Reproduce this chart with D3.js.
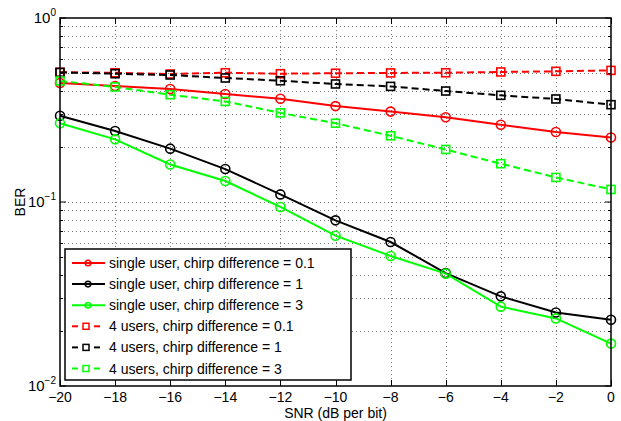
<!DOCTYPE html>
<html><head><meta charset="utf-8">
<script src="https://cdn.jsdelivr.net/npm/d3@7"></script>
<style>body{margin:0;background:#fff;}svg{display:block;font-family:"Liberation Sans",Arial,sans-serif;}</style>
</head><body><svg id="c" width="621" height="421"></svg>
<script>
const snr = [-20,-18,-16,-14,-12,-10,-8,-6,-4,-2,0];
const single01 = [0.443,0.427,0.411,0.386,0.364,0.332,0.310,0.289,0.263,0.240,0.224];
const single1  = [0.294,0.243,0.195,0.151,0.110,0.0795,0.0606,0.0411,0.0307,0.0251,0.0229];
const single3  = [0.268,0.219,0.160,0.130,0.094,0.0656,0.0509,0.0408,0.027,0.0233,0.017];
const users01  = [0.507,0.504,0.496,0.504,0.498,0.501,0.503,0.504,0.509,0.513,0.519];
const users1   = [0.506,0.498,0.49,0.472,0.456,0.438,0.425,0.401,0.380,0.363,0.338];
const users3   = [0.455,0.422,0.383,0.352,0.305,0.268,0.229,0.193,0.1615,0.136,0.117];
const xTicks = [-20,-18,-16,-14,-12,-10,-8,-6,-4,-2,0];
const yMajor = [1e-2,1e-1,1e0];
const yExp = ["-2","-1","0"];
const labels = ["single user, chirp difference = 0.1","single user, chirp difference = 1","single user, chirp difference = 3",
  "4 users, chirp difference = 0.1","4 users, chirp difference = 1","4 users, chirp difference = 3"];

const series = [
  {v:single01,c:"#ff0000",dash:null,m:"circle"},
  {v:single1,c:"#000000",dash:null,m:"circle"},
  {v:single3,c:"#00ff00",dash:null,m:"circle"},
  {v:users01,c:"#ff0000",dash:"7,4",m:"square"},
  {v:users1,c:"#000000",dash:"7,4",m:"square"},
  {v:users3,c:"#00ff00",dash:"7,4",m:"square"}
];

const L=60,R=611,T=18,B=386;
const svg=d3.select("#c");
const x=d3.scaleLinear().domain([-20,0]).range([L,R]);
const y=d3.scaleLog().domain([1e-2,1]).range([B,T]);

const yMinor=[];
for(let e=-2;e<0;e++){for(let k=2;k<=9;k++)yMinor.push(k*Math.pow(10,e));}

const g=svg.append("g");
g.selectAll(".gx").data(xTicks.slice(1,-1)).enter().append("line")
  .attr("x1",d=>Math.round(x(d))+0.5).attr("x2",d=>Math.round(x(d))+0.5).attr("y1",T).attr("y2",B)
  .attr("stroke","#777").attr("stroke-width",1).attr("stroke-dasharray","1,3");
g.selectAll(".gy").data(yMinor.concat([1e-1])).enter().append("line")
  .attr("x1",L).attr("x2",R).attr("y1",d=>Math.round(y(d))+0.5).attr("y2",d=>Math.round(y(d))+0.5)
  .attr("stroke","#777").attr("stroke-width",1).attr("stroke-dasharray","1,3");

const tk=svg.append("g").attr("stroke","#000").attr("stroke-width",1);
xTicks.forEach(d=>{
  const xx=Math.round(x(d))+0.5;
  tk.append("line").attr("x1",xx).attr("x2",xx).attr("y1",B).attr("y2",B-6);
  tk.append("line").attr("x1",xx).attr("x2",xx).attr("y1",T).attr("y2",T+6);
});
yMajor.forEach(d=>{
  tk.append("line").attr("x1",L).attr("x2",L+6).attr("y1",y(d)).attr("y2",y(d));
  tk.append("line").attr("x1",R).attr("x2",R-6).attr("y1",y(d)).attr("y2",y(d));
});
yMinor.forEach(d=>{
  const yy=Math.round(y(d))+0.5;
  tk.append("line").attr("x1",L).attr("x2",L+3).attr("y1",yy).attr("y2",yy);
  tk.append("line").attr("x1",R).attr("x2",R-3).attr("y1",yy).attr("y2",yy);
});

const line=d3.line().x((d,i)=>x(snr[i])).y(d=>y(d));
const pg=svg.append("g");
series.forEach(s=>{
  pg.append("path").datum(s.v).attr("d",line).attr("fill","none")
    .attr("stroke",s.c).attr("stroke-width",2).attr("stroke-dasharray",s.dash);
});
series.forEach(s=>{
  s.v.forEach((d,i)=>{
    if(s.m==="circle"){
      pg.append("circle").attr("cx",x(snr[i])).attr("cy",y(d)).attr("r",4.5)
        .attr("fill","none").attr("stroke",s.c).attr("stroke-width",1.6);
    } else {
      pg.append("rect").attr("x",x(snr[i])-4).attr("y",y(d)-4).attr("width",8).attr("height",8)
        .attr("fill","none").attr("stroke",s.c).attr("stroke-width",1.6);
    }
  });
});

svg.append("rect").attr("x",L).attr("y",T).attr("width",R-L).attr("height",B-T)
  .attr("fill","none").attr("stroke","#000").attr("stroke-width",1.5);

svg.append("g").selectAll("text").data(xTicks).enter().append("text")
  .attr("x",d=>x(d)).attr("y",B+16).attr("text-anchor","middle").attr("font-size",14)
  .text(d=>d<0?"\u2212"+(-d):String(d));
yMajor.forEach((d,i)=>{
  const t=svg.append("text").attr("x",L-4).attr("y",y(d)+5).attr("text-anchor","end").attr("font-size",15);
  t.append("tspan").text("10");
  t.append("tspan").attr("dy",-7).attr("font-size",10).text(yExp[i].replace("-","\u2212"));
});
svg.append("text").attr("x",(L+R)/2).attr("y",B+32).attr("text-anchor","middle").attr("font-size",14).text("SNR (dB per bit)");
svg.append("text").attr("transform",`translate(25,${(T+B)/2}) rotate(-90)`).attr("text-anchor","middle").attr("font-size",14).text("BER");

const lg=svg.append("g");
const lx=65,ly=249,lw=286,lh=131;
lg.append("rect").attr("x",lx).attr("y",ly).attr("width",lw).attr("height",lh).attr("fill","#fff").attr("stroke","#000").attr("stroke-width",1.5);
series.forEach((s,i)=>{
  const yy=ly+14+i*21.1;
  if(s.dash){
    lg.append("line").attr("x1",72).attr("x2",78).attr("y1",yy).attr("y2",yy).attr("stroke",s.c).attr("stroke-width",2);
    lg.append("line").attr("x1",94).attr("x2",100).attr("y1",yy).attr("y2",yy).attr("stroke",s.c).attr("stroke-width",2);
    lg.append("rect").attr("x",83).attr("y",yy-3).attr("width",6).attr("height",6).attr("fill","none").attr("stroke",s.c).attr("stroke-width",1.5);
  } else {
    lg.append("line").attr("x1",72).attr("x2",105).attr("y1",yy).attr("y2",yy).attr("stroke",s.c).attr("stroke-width",2);
    lg.append("circle").attr("cx",88).attr("cy",yy).attr("r",2.8).attr("fill","none").attr("stroke",s.c).attr("stroke-width",1.5);
  }
  lg.append("text").attr("x",109).attr("y",yy+5).attr("font-size",14).text(labels[i]);
});
</script></body></html>
